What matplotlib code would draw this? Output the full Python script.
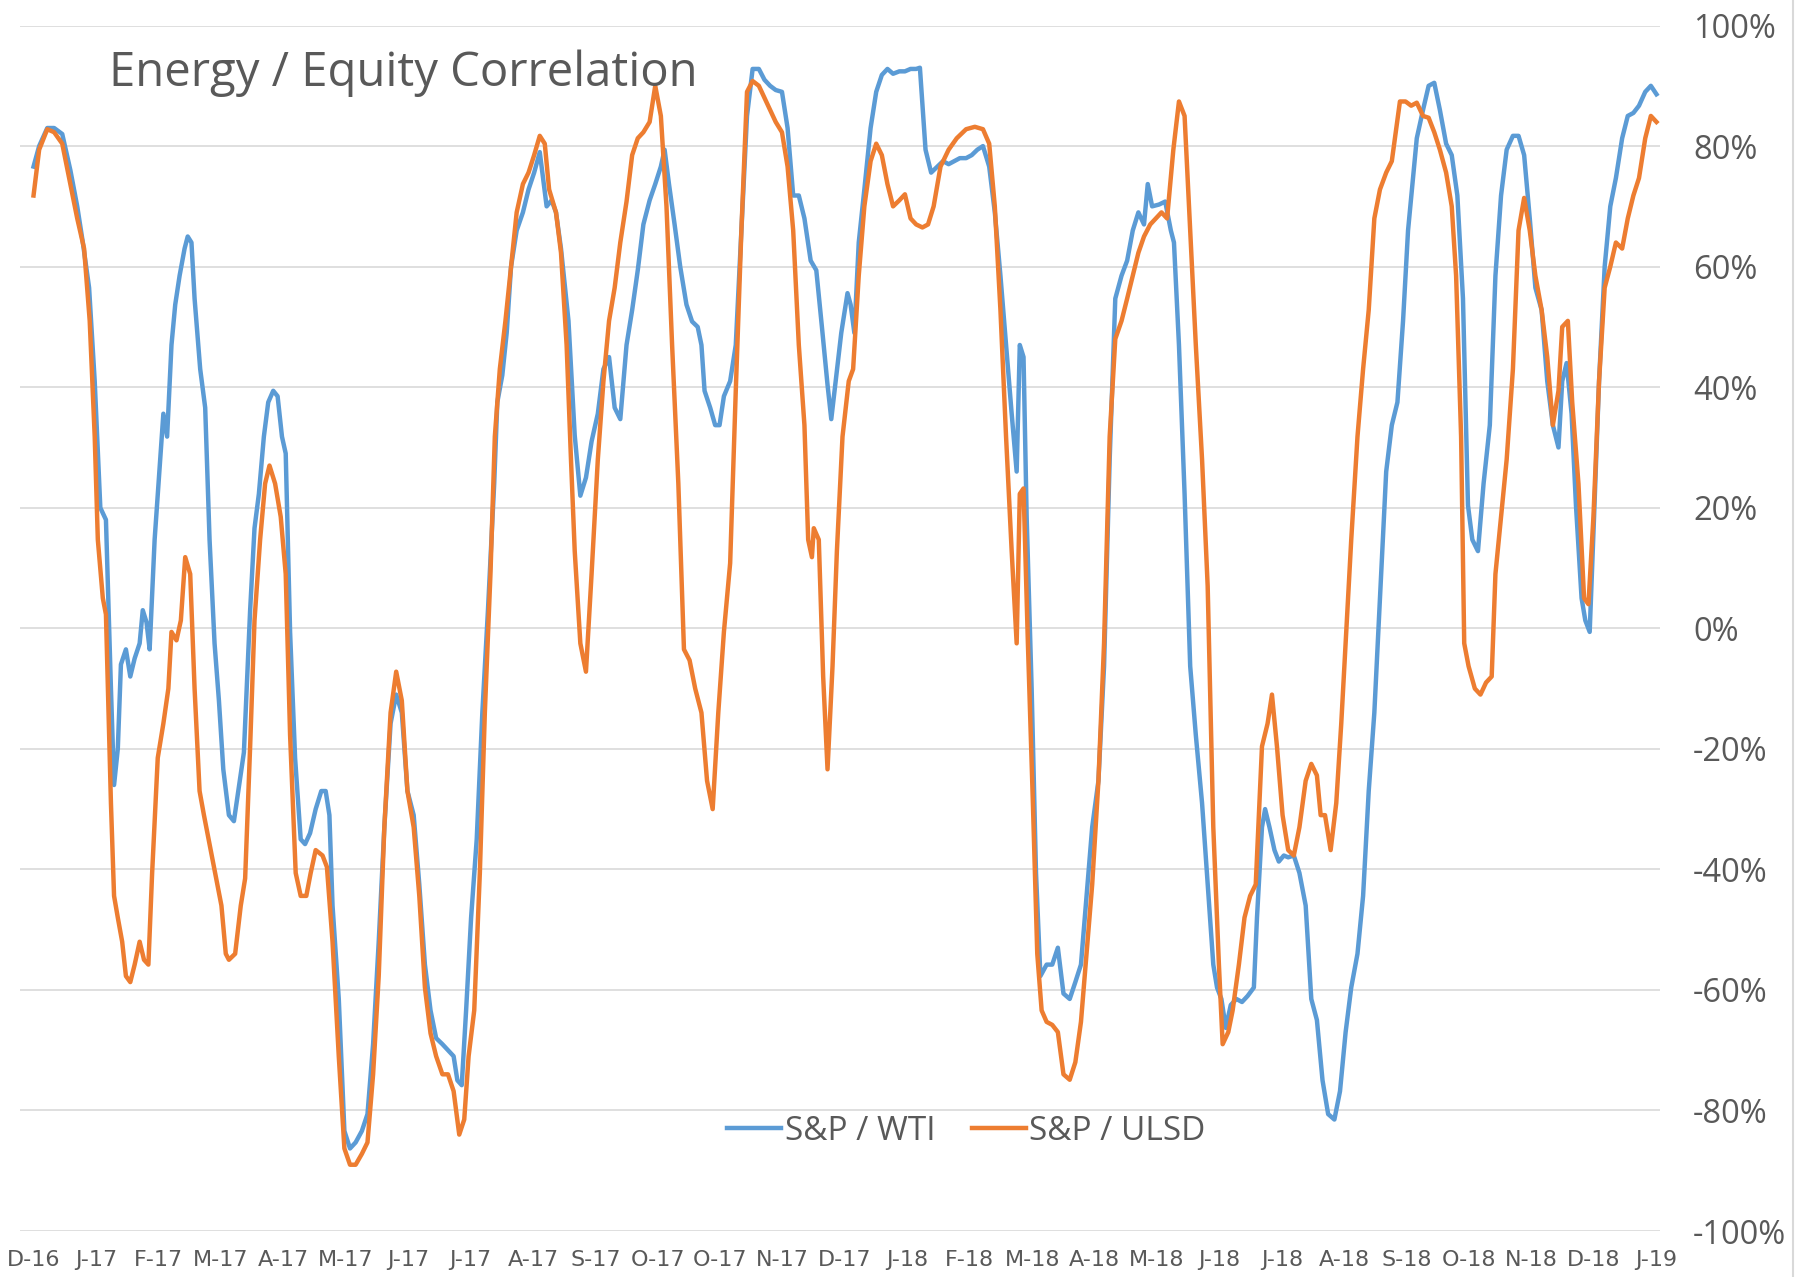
import matplotlib
matplotlib.use("Agg")
import matplotlib.pyplot as plt
from matplotlib.ticker import FuncFormatter
from matplotlib.lines import Line2D

# x positions are in month-label units (0 = D-16, 26 = J-19), values in %
tick_labels = ["D-16", "J-17", "F-17", "M-17", "A-17", "M-17", "J-17", "J-17", "A-17",
               "S-17", "O-17", "O-17", "N-17", "D-17", "J-18", "F-18", "M-18", "A-18",
               "M-18", "J-18", "J-18", "A-18", "S-18", "O-18", "N-18", "D-18", "J-19"]

wti_x = [0.00, 0.09, 0.22, 0.33, 0.46, 0.59, 0.70, 0.79, 0.89, 0.98, 1.07, 1.16, 1.24, 1.29,
         1.35, 1.40, 1.48, 1.55, 1.62, 1.70, 1.75, 1.81, 1.86, 1.94, 2.03, 2.08, 2.14, 2.21,
         2.27, 2.34, 2.42, 2.47, 2.53, 2.58, 2.67, 2.75, 2.82, 2.90, 2.97, 3.04, 3.13, 3.21,
         3.28, 3.37, 3.47, 3.54, 3.61, 3.69, 3.76, 3.84, 3.91, 3.98, 4.04, 4.11, 4.19, 4.28,
         4.35, 4.43, 4.52, 4.61, 4.68, 4.74, 4.79, 4.89, 4.98, 5.07, 5.16, 5.26, 5.35, 5.44,
         5.53, 5.62, 5.72, 5.81, 5.90, 5.99, 6.09, 6.18, 6.27, 6.36, 6.45, 6.55, 6.64, 6.73,
         6.79, 6.86, 6.93, 7.01, 7.10, 7.19, 7.28, 7.38, 7.43, 7.51, 7.58, 7.65, 7.74, 7.84,
         7.93, 8.02, 8.11, 8.22, 8.30, 8.37, 8.45, 8.57, 8.67, 8.76, 8.85, 8.94, 9.04, 9.13,
         9.22, 9.31, 9.40, 9.50, 9.59, 9.68, 9.77, 9.87, 9.96, 10.05, 10.11, 10.18, 10.27,
         10.36, 10.46, 10.55, 10.64, 10.70, 10.75, 10.84, 10.92, 10.99, 11.06, 11.16, 11.25,
         11.34, 11.43, 11.52, 11.62, 11.71, 11.80, 11.89, 11.99, 12.08, 12.17, 12.26, 12.35,
         12.45, 12.54, 12.63, 12.72, 12.78, 12.85, 12.94, 13.04, 13.09, 13.15, 13.22, 13.31,
         13.41, 13.50, 13.59, 13.68, 13.77, 13.87, 13.96, 14.05, 14.14, 14.20, 14.29, 14.38,
         14.48, 14.57, 14.66, 14.75, 14.84, 14.94, 15.03, 15.12, 15.21, 15.31, 15.40, 15.49,
         15.58, 15.67, 15.75, 15.80, 15.86, 15.91, 15.99, 16.06, 16.13, 16.23, 16.32, 16.41,
         16.50, 16.60, 16.69, 16.78, 16.87, 16.96, 17.06, 17.15, 17.24, 17.33, 17.43, 17.52,
         17.61, 17.70, 17.79, 17.85, 17.92, 18.03, 18.13, 18.22, 18.27, 18.35, 18.44, 18.53,
         18.62, 18.72, 18.81, 18.90, 18.96, 19.03, 19.10, 19.18, 19.27, 19.36, 19.45, 19.55,
         19.60, 19.68, 19.73, 19.80, 19.88, 19.95, 20.03, 20.10, 20.19, 20.28, 20.38, 20.47,
         20.56, 20.65, 20.74, 20.84, 20.93, 21.02, 21.11, 21.21, 21.30, 21.39, 21.48, 21.57,
         21.67, 21.76, 21.85, 21.94, 22.02, 22.09, 22.16, 22.26, 22.35, 22.44, 22.53, 22.63,
         22.72, 22.81, 22.90, 22.98, 23.05, 23.14, 23.23, 23.33, 23.42, 23.51, 23.60, 23.70,
         23.79, 23.88, 23.97, 24.06, 24.16, 24.25, 24.34, 24.43, 24.49, 24.56, 24.64, 24.71,
         24.80, 24.86, 24.93, 25.00, 25.08, 25.17, 25.26, 25.35, 25.45, 25.54, 25.63, 25.72,
         25.82, 25.91, 26.00]
wti_y = [76.6, 80, 83, 83, 82, 76, 70, 64, 56.5, 41, 20, 18, -10, -26,
         -20, -6, -3.5, -8, -5, -2.5, 3, 1, -3.5, 14.7, 28, 35.6, 31.8, 47,
         53.7, 58.5, 63, 65, 64, 54.7, 43, 36.6, 14.7, -2.5, -12, -23.4, -31, -32,
         -27, -20.6, 3, 16.6, 22.3, 31.8, 37.5, 39.4, 38.5, 31.8, 29, -0.6, -21.5, -35,
         -35.8, -34, -30, -27, -27, -31, -46, -61.5, -83.4, -86.3, -85.3, -83.4, -80.6, -69,
         -52, -33, -15.8, -11, -14, -27, -31, -42.5, -55.8, -63.4, -68, -69, -70, -71,
         -75, -75.8, -63.4, -48, -35, -14, 3, 24, 37.5, 42, 49, 60, 66, 69,
         72.8, 75.6, 79, 70, 71, 69, 63, 51, 32, 22, 25, 31, 35.6, 43,
         45, 36.6, 34.7, 47, 52.8, 59.4, 67, 71, 73.7, 76.6, 79.4, 73.7, 67,
         60, 53.7, 50.9, 50, 47, 39.4, 36.6, 33.7, 33.7, 38.5, 41, 47,
         66, 85, 92.8, 92.8, 91, 90, 89.3, 89, 83, 71.8, 71.8, 68,
         61, 59.4, 50, 40.4, 34.7, 41, 49, 55.6, 53.7, 49, 64, 72.8,
         83, 89, 91.8, 92.8, 92, 92.4, 92.4, 92.8, 92.8, 93, 79.4, 75.6,
         76.6, 77.5, 77, 77.5, 78, 78, 78.5, 79.4, 80, 76.6, 69, 58.5,
         47, 35.6, 26, 47, 45, 18.5, -10, -40.6, -57.7, -55.8, -55.8, -53,
         -60.6, -61.5, -58.7, -55.8, -44.4, -33, -25.3, -6.3, 28, 54.7, 58.5, 61,
         66, 69, 67, 73.7, 70, 70.3, 70.8, 66, 64, 47, 22.3, -6.3,
         -17.7, -29, -42.5, -55.8, -59.6, -61.5, -66.3, -62.5, -61.5, -62, -61, -59.6,
         -48, -33, -30, -33, -36.8, -38.7, -37.7, -38, -37.7, -40.6, -46, -61.5,
         -65, -75, -80.6, -81.5, -76.8, -67, -59.6, -54, -44.4, -27, -14, 5,
         26, 33.7, 37.5, 51, 66, 73.7, 81.3, 86, 90, 90.5, 86, 80.4,
         78.5, 71.8, 54.7, 20.4, 14.7, 12.8, 24, 33.7, 58.5, 71.8, 79.4, 81.7,
         81.7, 78.5, 68, 56.5, 52.8, 41, 33.7, 30, 41, 44, 35.6, 20.4,
         5, 1.3, -0.6, 18.5, 41, 60, 70, 74.7, 81.3, 85, 85.5, 86.7,
         89, 90, 88.6]

ulsd_x = [0.00, 0.09, 0.22, 0.33, 0.46, 0.59, 0.70, 0.81, 0.90, 0.98, 1.03, 1.11, 1.16, 1.24,
          1.29, 1.35, 1.42, 1.48, 1.55, 1.62, 1.70, 1.77, 1.84, 1.90, 1.99, 2.08, 2.16, 2.21,
          2.29, 2.36, 2.43, 2.51, 2.58, 2.66, 2.73, 2.82, 2.91, 3.01, 3.08, 3.13, 3.23, 3.32,
          3.39, 3.47, 3.54, 3.63, 3.71, 3.78, 3.87, 3.96, 4.04, 4.11, 4.20, 4.28, 4.37, 4.44,
          4.52, 4.63, 4.70, 4.79, 4.89, 4.98, 5.07, 5.16, 5.26, 5.35, 5.44, 5.53, 5.62, 5.72,
          5.81, 5.90, 5.99, 6.09, 6.18, 6.27, 6.36, 6.45, 6.55, 6.64, 6.73, 6.82, 6.90, 6.97,
          7.06, 7.15, 7.23, 7.32, 7.39, 7.47, 7.56, 7.65, 7.74, 7.84, 7.93, 8.02, 8.11, 8.19,
          8.26, 8.37, 8.45, 8.54, 8.61, 8.67, 8.76, 8.85, 8.94, 9.04, 9.13, 9.22, 9.31, 9.40,
          9.50, 9.59, 9.68, 9.77, 9.87, 9.96, 10.05, 10.14, 10.23, 10.33, 10.42, 10.51, 10.60,
          10.70, 10.79, 10.88, 10.97, 11.06, 11.16, 11.25, 11.34, 11.43, 11.52, 11.62, 11.71,
          11.80, 11.89, 11.99, 12.08, 12.17, 12.26, 12.35, 12.41, 12.47, 12.50, 12.58, 12.65,
          12.72, 12.80, 12.87, 12.96, 13.06, 13.13, 13.22, 13.31, 13.41, 13.50, 13.59, 13.68,
          13.77, 13.87, 13.96, 14.05, 14.14, 14.24, 14.33, 14.42, 14.53, 14.66, 14.79, 14.94,
          15.08, 15.21, 15.31, 15.40, 15.49, 15.58, 15.67, 15.75, 15.80, 15.86, 15.93, 16.01,
          16.08, 16.15, 16.23, 16.32, 16.41, 16.50, 16.60, 16.69, 16.78, 16.87, 16.96, 17.06,
          17.15, 17.24, 17.33, 17.43, 17.52, 17.61, 17.70, 17.79, 17.89, 17.98, 18.07, 18.16,
          18.26, 18.35, 18.44, 18.53, 18.62, 18.72, 18.81, 18.90, 18.99, 19.05, 19.14, 19.21,
          19.31, 19.40, 19.49, 19.58, 19.68, 19.77, 19.84, 19.92, 20.01, 20.10, 20.19, 20.28,
          20.38, 20.47, 20.56, 20.62, 20.69, 20.78, 20.87, 20.95, 21.02, 21.11, 21.21, 21.30,
          21.39, 21.48, 21.57, 21.67, 21.76, 21.81, 21.89, 21.98, 22.07, 22.16, 22.26, 22.35,
          22.44, 22.53, 22.63, 22.72, 22.79, 22.87, 22.92, 22.99, 23.09, 23.18, 23.27, 23.36,
          23.42, 23.51, 23.60, 23.70, 23.79, 23.88, 23.97, 24.06, 24.16, 24.25, 24.34, 24.43,
          24.49, 24.58, 24.65, 24.75, 24.84, 24.91, 24.99, 25.08, 25.17, 25.26, 25.35, 25.45,
          25.54, 25.63, 25.72, 25.82, 25.91, 26.00]
ulsd_y = [71.8, 79.4, 82.8, 82.3, 80.4, 73.7, 68, 63, 51, 31.8, 14.7, 5, 2.3, -29,
          -44.4, -48, -52, -57.7, -58.7, -55.8, -52, -55, -55.8, -40.6, -21.5, -15.8, -10, -0.6,
          -2, 1.3, 11.8, 9, -10, -27, -31, -35.8, -40.6, -46, -54, -55, -54, -46,
          -41.5, -19.6, 1.3, 14.7, 24, 27, 24, 18.5, 9, -17.7, -40.6, -44.4, -44.4, -40.6,
          -36.8, -37.7, -39.6, -52, -71, -86.3, -89, -89, -87.2, -85.3, -74, -57.7, -33, -14,
          -7.2, -12, -27, -33, -44.4, -59.6, -67.2, -71, -74, -74, -76.8, -84, -81.5, -71,
          -63.4, -40.6, -14, 9, 31.8, 43, 51, 60, 69, 73.7, 75.6, 78.5, 81.7, 80.4,
          72.8, 69, 62.3, 47, 28, 12.8, -2.5, -7.2, 9, 28, 41, 51, 56.5, 64,
          70.8, 78.5, 81.3, 82.3, 84, 90, 85, 70, 47, 24, -3.5, -5.3, -10,
          -14, -25.3, -30, -14, -0.6, 10.8, 39.4, 66, 89, 90.8, 90, 88,
          86, 84, 82.3, 76.6, 66, 47, 33.7, 14.7, 11.8, 16.6, 14.7, -8,
          -23.4, -6.3, 12.8, 31.8, 41, 43, 58.5, 70, 77.5, 80.4, 78.5, 73.7,
          70, 71, 72, 68, 67, 66.5, 67, 70, 76.6, 79.4, 81.3, 82.8,
          83.2, 82.8, 80.4, 70, 52.8, 31.8, 12.8, -2.5, 22.3, 23.2, -2.5, -29,
          -54, -63.4, -65.3, -65.8, -67, -74, -74.9, -72, -65.3, -54, -42.5, -25.3,
          -2.5, 31.8, 48, 51, 54.7, 58.5, 62.3, 65, 67, 68, 69, 68,
          79.4, 87.4, 85, 66, 47, 28, 7, -33, -55.8, -69, -67, -63.4,
          -55.8, -48, -44.4, -42.5, -19.6, -15.8, -11, -19.6, -31, -36.8, -37.7, -33,
          -25.3, -22.5, -24.4, -31, -31, -36.8, -29, -15.8, -2.5, 14.7, 31.8, 43,
          52.8, 68, 72.8, 75.6, 77.5, 81.3, 87.4, 87.4, 86.7, 87.2, 85, 84.7,
          82.3, 79.4, 75.6, 70, 58.5, 31.8, -2.5, -6.3, -10, -11, -9, -8,
          9, 18.5, 28, 43, 66, 71.4, 66, 58.5, 52.8, 45, 33.7, 39.4,
          50, 51, 37.5, 24, 5, 4, 18.5, 41, 56.5, 60, 64, 63,
          68, 71.8, 74.7, 81.3, 85, 84]

blue = "#5B9BD5"
orange = "#ED7D31"
grey_text = "#595959"

fig = plt.figure(figsize=(18, 12.77), dpi=100)
ax = fig.add_axes([0.011, 0.036, 0.911, 0.944])

ax.plot(wti_x, wti_y, color=blue, lw=3.2, label="S&P / WTI", solid_joinstyle="round")
ax.plot(ulsd_x, ulsd_y, color=orange, lw=3.2, label="S&P / ULSD", solid_joinstyle="round")

ax.set_xlim(-0.22, 26.05)
ax.set_ylim(-100, 100)
ax.set_yticks(range(-100, 101, 20))
ax.yaxis.set_major_formatter(FuncFormatter(lambda v, p: f"{v:.0f}%"))
ax.yaxis.tick_right()
ax.grid(axis="y", color="#D9D9D9", lw=1.2)
ax.set_axisbelow(True)
for s in ax.spines.values():
    s.set_visible(False)

ax.set_xticks(range(len(tick_labels)))
ax.set_xticklabels(tick_labels, family=["Liberation Sans Narrow", "DejaVu Sans"],
                   fontsize=16, color=grey_text)
ax.tick_params(axis="x", length=0, pad=14)
ax.tick_params(axis="y", length=0, pad=24, labelsize=23.5, labelcolor=grey_text)
for t in ax.get_yticklabels():
    t.set_family(["Open Sans", "DejaVu Sans"])

fig.text(0.0606, 0.933, "Energy / Equity Correlation", fontsize=34, color=grey_text,
         family=["Open Sans", "DejaVu Sans"], va="baseline", ha="left")

leg = ax.legend(loc="center", bbox_to_anchor=(0.537, 0.114), bbox_transform=fig.transFigure,
                ncol=2, frameon=False, handlelength=1.62, handletextpad=0.1,
                columnspacing=1.1, prop={"family": ["Open Sans", "DejaVu Sans"], "size": 24})
for t in leg.get_texts():
    t.set_color(grey_text)

# thin chart border on the right like the source
fig.add_artist(Line2D([0.996, 0.996], [0.0, 1.0], transform=fig.transFigure,
                      color="#D9D9D9", lw=1.5))

fig.savefig("out.png", dpi=100)
